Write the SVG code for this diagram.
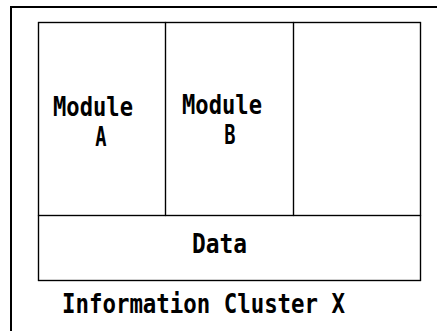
<svg xmlns="http://www.w3.org/2000/svg" width="437" height="331" viewBox="0 0 437 331">
<style>
.ln{fill:none;stroke:#000;stroke-width:1.2}
.t{font-family:"DejaVu Sans Mono","Liberation Mono",monospace;font-size:26px;font-weight:600;fill:#000}
</style>
<rect width="437" height="331" fill="#fff"/>
<path d="M11,331 V7 H437" fill="none" stroke="#000" stroke-width="2"/>
<g id="cluster">
<rect class="ln" x="38.5" y="22.5" width="382" height="258"/>
<text class="t" x="62" y="313" textLength="283" lengthAdjust="spacingAndGlyphs">Information Cluster X</text>
</g>
<g id="moduleA">
<rect class="ln" x="38.5" y="22.5" width="127" height="193"/>
<text class="t" x="53" y="116" textLength="80" lengthAdjust="spacingAndGlyphs">Module</text>
<text class="t" x="101" y="146" text-anchor="middle" transform="translate(101 0) scale(0.72 1) translate(-101 0)">A</text>
</g>
<g id="moduleB">
<rect class="ln" x="165.5" y="22.5" width="128" height="193"/>
<text class="t" x="182" y="114" textLength="80" lengthAdjust="spacingAndGlyphs">Module</text>
<text class="t" x="230" y="144" text-anchor="middle" transform="translate(230 0) scale(0.72 1) translate(-230 0)">B</text>
</g>
<g id="module3">
<rect class="ln" x="293.5" y="22.5" width="127" height="193"/>
</g>
<g id="data">
<rect class="ln" x="38.5" y="215.5" width="382" height="65"/>
<text class="t" x="192" y="253" textLength="55" lengthAdjust="spacingAndGlyphs">Data</text>
</g>
<g id="connectors"/>
</svg>
